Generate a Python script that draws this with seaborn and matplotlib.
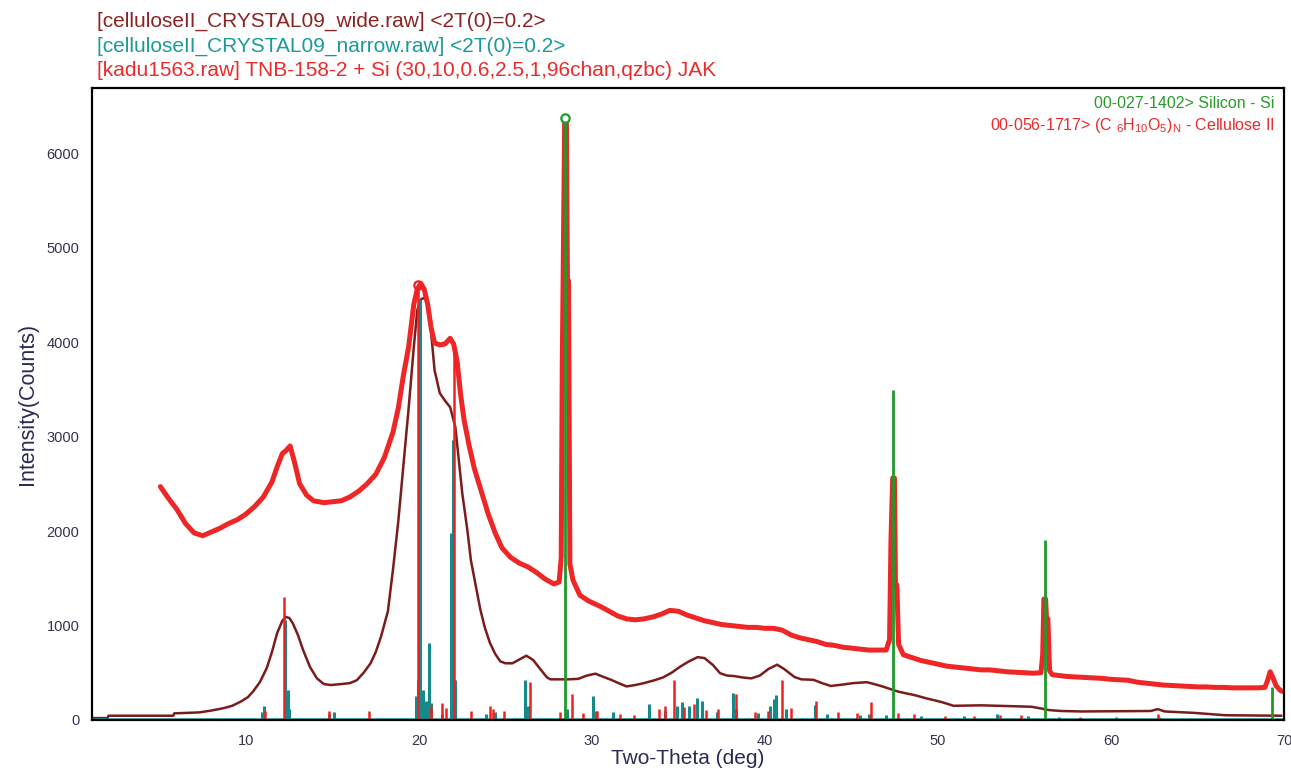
import numpy as np
import pandas as pd
import matplotlib
matplotlib.use("Agg")
import matplotlib.pyplot as plt
import seaborn as sns

# measured pattern (red, kadu1563)
meas_x = [5.05, 5.5, 6.0, 6.5, 7.0, 7.5, 8.0, 8.5, 9.0, 9.5, 10.0, 10.5, 11.0, 11.5, 11.8, 12.1, 12.3, 12.55,
          12.8, 13.1, 13.5, 13.9, 14.5, 15.0, 15.5, 16.0, 16.5, 17.0, 17.5, 18.0, 18.5, 18.8, 19.1, 19.4, 19.7,
          19.9, 20.1, 20.3, 20.5, 20.7, 20.9, 21.2, 21.5, 21.8, 22.0, 22.2, 22.4, 22.6, 22.9, 23.2, 23.6, 24.0,
          24.4, 24.8, 25.3, 25.8, 26.3, 26.8, 27.3, 27.8, 28.1, 28.22, 28.28, 28.42, 28.52, 28.58, 28.64, 28.72,
          28.9, 29.3, 29.8, 30.5, 31.0, 31.5, 32.0, 32.5, 33.0, 33.5, 34.0, 34.5, 35.0, 35.5, 36.0, 36.5, 37.0,
          37.5, 38.0, 38.5, 39.0, 39.5, 40.0, 40.5, 41.0, 41.5, 42.0, 42.5, 43.0, 43.5, 44.0, 44.5, 45.0, 45.5,
          46.0, 46.5, 47.0, 47.2, 47.28, 47.38, 47.48, 47.54, 47.62, 47.72, 48.0, 48.5, 49.0, 49.5, 50.0, 50.5,
          51.0, 51.5, 52.0, 52.5, 53.0, 53.5, 54.0, 54.5, 55.0, 55.5, 55.95, 56.05, 56.12, 56.22, 56.27, 56.35,
          56.45, 56.6, 57.0, 57.5, 58.0, 58.5, 59.0, 59.5, 60.0, 60.5, 61.0, 61.5, 62.0, 62.5, 63.0, 63.5, 64.0,
          64.5, 65.0, 65.5, 66.0, 66.5, 67.0, 67.5, 68.0, 68.5, 68.9, 69.05, 69.2, 69.35, 69.55, 69.8, 70.0]
meas_y = [2470, 2350, 2230, 2080, 1980, 1950, 1990, 2030, 2080, 2120, 2180, 2260, 2360, 2520, 2680, 2820, 2850, 2900,
          2730, 2500, 2380, 2320, 2300, 2310, 2320, 2360, 2420, 2500, 2600, 2780, 3050, 3300, 3650, 3950, 4400,
          4560, 4620, 4560, 4400, 4150, 3990, 3970, 3980, 4040, 3980, 3800, 3450, 3180, 2900, 2660, 2420, 2180,
          1980, 1820, 1720, 1660, 1620, 1560, 1490, 1440, 1460, 1720, 3750, 6350, 6350, 4650, 4650, 1650,
          1480, 1320, 1260, 1200, 1150, 1100, 1070, 1060, 1070, 1090, 1120, 1160, 1150, 1110, 1080, 1050, 1030,
          1010, 1000, 990, 980, 980, 970, 970, 950, 900, 870, 850, 830, 800, 790, 770, 760, 750,
          740, 740, 740, 850, 1900, 2560, 2560, 1430, 1430, 800, 690, 660, 630, 610, 590, 570,
          560, 550, 540, 530, 530, 520, 510, 505, 500, 495, 500, 690, 1280, 1280, 1070, 1070,
          520, 480, 470, 460, 455, 450, 445, 440, 430, 425, 420, 400, 390, 380, 370, 365, 360,
          355, 350, 350, 345, 345, 340, 340, 340, 340, 345, 420, 510, 450, 360, 310, 300]

# simulated wide pattern (maroon)
wide_x = [1.1, 2.0, 2.05, 5.8, 5.85, 7.3, 8.0, 8.7, 9.2, 9.7, 10.1, 10.4, 10.8, 11.2, 11.5, 11.8, 12.1, 12.3,
          12.5, 12.7, 13.0, 13.3, 13.7, 14.1, 14.5, 14.9, 15.5, 16.0, 16.4, 16.8, 17.2, 17.5, 17.8, 18.2, 18.5,
          18.8, 19.1, 19.4, 19.7, 19.9, 20.1, 20.3, 20.5, 20.7, 20.9, 21.2, 21.5, 21.8, 22.1, 22.3, 22.5, 22.8,
          23.0, 23.3, 23.55, 23.8, 24.1, 24.4, 24.7, 25.0, 25.4, 25.8, 26.2, 26.6, 27.0, 27.4, 27.6, 28.6, 29.2,
          29.7, 30.2, 30.6, 31.1, 31.6, 32.0, 32.5, 33.0, 33.6, 34.1, 34.6, 35.1, 35.6, 36.1, 36.5, 37.0, 37.4,
          37.8, 38.2, 38.7, 39.2, 39.7, 40.2, 40.7, 41.1, 41.7, 42.1, 42.8, 43.3, 43.8, 44.5, 45.1, 45.9, 46.3,
          46.7, 47.2, 47.7, 48.2, 48.6, 49.3, 50.2, 50.9, 52.5, 55.4, 56.0, 56.4, 57.1, 58.3, 62.3, 62.7, 63.1,
          64.8, 66.6, 69.85]
wide_y = [20, 20, 45, 45, 70, 80, 100, 125, 150, 195, 240, 300, 400, 550, 720, 920, 1050, 1090,
          1080, 1025, 900, 740, 560, 440, 380, 370, 380, 390, 420, 500, 600, 720, 880, 1150, 1600,
          2100, 2700, 3300, 3950, 4340, 4450, 4470, 4410, 4100, 3700, 3460, 3380, 3310, 3100, 2750, 2400, 2000,
          1690, 1400, 1165, 980, 815, 700, 620, 600, 600, 640, 680, 635, 540, 450, 430, 430, 435,
          470, 490, 460, 425, 385, 355, 370, 390, 420, 450, 500, 565, 620, 665, 655, 580, 495,
          470, 465, 450, 440, 470, 540, 585, 540, 455, 430, 425, 390, 360, 375, 390, 400, 380,
          360, 330, 300, 280, 265, 230, 190, 150, 155, 140, 120, 105, 95, 90, 95, 115, 90,
          75, 50, 45]

# simulated narrow pattern (teal sticks)
narrow_x = [10.9, 11.05, 12.28, 12.4, 12.5, 14.8, 15.1, 19.85, 19.95, 20.08, 20.25, 20.4, 20.55, 20.7, 21.3,
            21.85, 21.95, 22.1, 23.9, 24.4, 26.15, 26.3, 28.55, 30.05, 30.25, 31.2, 33.3, 34.2, 34.9, 35.2,
            35.6, 36.05, 36.35, 37.2, 38.15, 38.35, 39.6, 40.3, 40.5, 40.65, 41.2, 42.9, 43.6, 45.5, 46.0,
            47.0, 49.0, 51.5, 53.4, 55.2, 57.0, 60.3, 62.8]
narrow_h = [80, 150, 1060, 320, 120, 60, 80, 250, 420, 4460, 320, 200, 810, 180, 60,
            1980, 2960, 420, 60, 80, 420, 150, 120, 250, 100, 80, 170, 90, 150, 190,
            150, 230, 200, 80, 290, 120, 70, 150, 220, 260, 120, 160, 60, 50, 60,
            50, 40, 40, 60, 40, 30, 30, 30]
narrow_base = 12

# 00-056-1717 Cellulose II reference (red sticks)
cell_x = [11.1, 12.2, 14.8, 17.1, 19.95, 20.7, 21.3, 21.55, 22.05, 23.0, 24.1, 24.3, 24.9, 26.4, 28.15, 28.85,
          29.5, 30.3, 31.6, 32.4, 33.9, 34.2, 34.75, 35.3, 35.9, 36.6, 37.3, 38.35, 39.4, 40.2, 41.0, 41.5,
          42.95, 44.2, 45.3, 46.1, 47.7, 48.6, 50.4, 52.1, 53.6, 54.8, 58.2, 62.7]
cell_h = [100, 1300, 100, 100, 4600, 150, 180, 130, 3950, 90, 150, 120, 90, 400, 80, 270,
          70, 100, 60, 50, 120, 150, 420, 140, 170, 110, 120, 270, 80, 100, 420, 130,
          200, 80, 70, 190, 70, 60, 40, 40, 50, 50, 30, 60]

# 00-027-1402 Silicon reference (green sticks)
si_x = [28.42, 47.38, 56.2, 69.3]
si_h = [6370, 3495, 1910, 350]

header = ["[celluloseII_CRYSTAL09_wide.raw] <2T(0)=0.2>",
          "[celluloseII_CRYSTAL09_narrow.raw] <2T(0)=0.2>",
          "[kadu1563.raw] TNB-158-2 + Si (30,10,0.6,2.5,1,96chan,qzbc) JAK"]
header_colors = ["#8b2323", "#1a9a9a", "#ec2a2a"]

sns.set_style("white")
plt.rcParams['font.family'] = ['Liberation Sans', 'DejaVu Sans']
plt.rcParams['mathtext.fontset'] = 'custom'
plt.rcParams['mathtext.rm'] = 'Liberation Sans'

fig = plt.figure(figsize=(12.91, 7.72), dpi=100)
ax = fig.add_axes([0.0713, 0.0674, 0.9233, 0.8187])

wide = pd.DataFrame({'x': wide_x, 'y': wide_y})
meas = pd.DataFrame({'x': meas_x, 'y': meas_y})

sns.lineplot(data=wide, x='x', y='y', ax=ax, color='#7b1c1c', linewidth=1.8, sort=False)
sns.lineplot(data=meas, x='x', y='y', ax=ax, color='#ee2626', linewidth=3.6, sort=False)
ax.axhline(narrow_base, color='#1a9a9a', linewidth=1.8)
ax.vlines(narrow_x, 0, narrow_h, color='#148a8a', linewidth=2.2)
ax.vlines(cell_x, 0, cell_h, color='#f02020', linewidth=1.8)
ax.vlines(si_x, 0, si_h, color='#1e9a2a', linewidth=2.0)

# marker circles on the strongest reference lines
ax.plot([si_x[0]], [si_h[0]], 'o', mfc='white', mec='#1e9a2a', ms=6, mew=1.6)
ax.plot([cell_x[4]], [cell_h[4]], 'o', mfc='none', mec='#f02020', ms=6, mew=1.6)

ax.set_xlim(1.1, 70.0)
ax.set_ylim(0, 6690)
ax.set_xticks(np.arange(10, 71, 10))
ax.set_xticks(np.arange(2, 70, 2), minor=True)
ax.set_yticks(np.arange(0, 6001, 1000))
ax.tick_params(axis='x', which='both', direction='in', length=7, width=1.6, color='black',
               labelsize=10.5, labelcolor='#33334d', pad=10)
ax.tick_params(axis='y', direction='out', length=6, width=1.6, color='black',
               labelsize=10.5, labelcolor='#33334d', pad=3)
for s in ax.spines.values():
    s.set_color('black')
    s.set_linewidth(1.6)

ax.set_xlabel('Two-Theta (deg)', fontsize=15, color='#2a2a55', labelpad=1)
ax.set_ylabel('Intensity(Counts)', fontsize=15.5, color='#2a2a55', labelpad=6)

for i, (t, c) in enumerate(zip(header, header_colors)):
    fig.text(97 / 1291, 1 - (21 + 25 * i) / 772, t, color=c, fontsize=15, va='center', ha='left')

ax.text(0.9915, 0.976, "00-027-1402> Silicon - Si", transform=ax.transAxes, ha='right', va='center',
        fontsize=11.5, color='#2a9a2a')
ax.text(0.9915, 0.941,
        r"00-056-1717> (C $_{\mathregular{6}}$H$_{\mathregular{10}}$O$_{\mathregular{5}}$)$_{\mathregular{N}}$ - Cellulose II",
        transform=ax.transAxes, ha='right', va='center', fontsize=11.5, color='#ec2a2a')

fig.savefig('out.png', dpi=100)
